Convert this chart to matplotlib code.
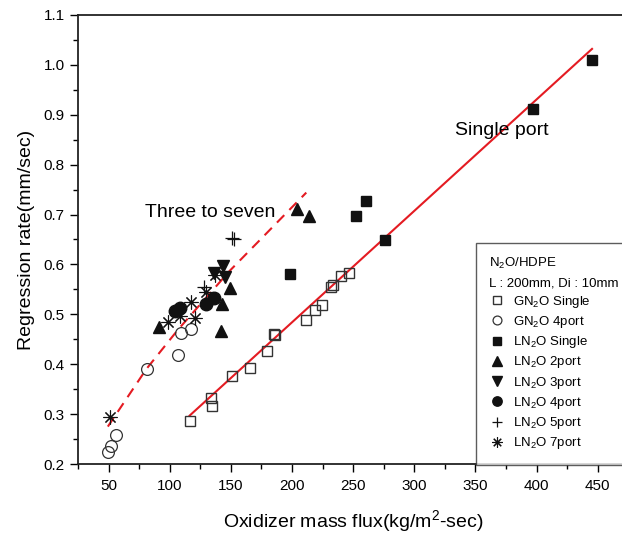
import matplotlib
matplotlib.use("Agg")
import matplotlib.pyplot as plt
from matplotlib.ticker import MultipleLocator

plt.rcParams['font.family'] = ['Liberation Sans', 'DejaVu Sans']
plt.rcParams['mathtext.fontset'] = 'custom'
plt.rcParams['mathtext.rm'] = 'Liberation Sans'
plt.rcParams['mathtext.it'] = 'Liberation Sans:italic'

# GN2O single port (open squares)
gn_single_x = [116.8, 133.4, 134.5, 150.9, 165.6, 179.5, 185.2, 186.5, 211.7, 218.5, 224.8, 232.1, 233.5, 239.8, 246.6]
gn_single_y = [0.286, 0.332, 0.317, 0.376, 0.393, 0.427, 0.460, 0.458, 0.489, 0.508, 0.519, 0.555, 0.558, 0.577, 0.582]

# GN2O 4 port (open circles)
gn_4_x = [49.4, 52.2, 56.3, 81.4, 106.7, 109.5, 117.6]
gn_4_y = [0.225, 0.236, 0.258, 0.390, 0.418, 0.463, 0.470]

# LN2O single port (filled squares)
ln_single_x = [198.6, 252.6, 260.2, 276.3, 397.1, 445.4]
ln_single_y = [0.581, 0.697, 0.728, 0.649, 0.911, 1.010]

# LN2O 2 port (up triangles)
ln_2_x = [90.9, 142.2, 142.7, 149.3, 204.0, 213.8]
ln_2_y = [0.475, 0.467, 0.521, 0.552, 0.712, 0.697]

# LN2O 3 port (down triangles)
ln_3_x = [136.5, 143.2, 145.6]
ln_3_y = [0.582, 0.596, 0.575]

# LN2O 4 port (filled circles)
ln_4_x = [104.0, 108.1, 129.9, 136.1]
ln_4_y = [0.507, 0.512, 0.521, 0.532]

# LN2O 5 port (plus)
ln_5_x = [128.0, 150.8, 152.6]
ln_5_y = [0.555, 0.652, 0.650]

# LN2O 7 port (asterisk)
ln_7_x = [51.4, 98.5, 108.1, 117.6, 120.3, 129.9, 136.7]
ln_7_y = [0.294, 0.485, 0.497, 0.525, 0.492, 0.545, 0.578]

# fitted curves
fit_single_x = [116.3, 445.4]
fit_single_y = [0.297, 1.032]
fit_multi_x = [49.4, 80.8, 106.7, 149.0, 175.0, 211.7]
fit_multi_y = [0.275, 0.390, 0.469, 0.587, 0.652, 0.744]

fig = plt.figure(figsize=(6.22, 5.35), dpi=100)
ax = fig.add_axes([0.1254, 0.1327, 0.8846, 0.8393])

red = '#e41b22'
ax.plot(fit_single_x, fit_single_y, color=red, lw=1.5, zorder=2)
ax.plot(fit_multi_x, fit_multi_y, color=red, lw=1.5, ls=(0, (5, 3.5)), zorder=2)

k = '#111111'
h1, = ax.plot(gn_single_x, gn_single_y, 's', ms=7.5, mfc='none', mec='#333333', mew=1.0, label='GN$_2$O Single')
h2, = ax.plot(gn_4_x, gn_4_y, 'o', ms=8.5, mfc='none', mec='#333333', mew=0.9, label='GN$_2$O 4port')
h3, = ax.plot(ln_single_x, ln_single_y, 's', ms=7, color=k, label='LN$_2$O Single')
h4, = ax.plot(ln_2_x, ln_2_y, '^', ms=9, color=k, label='LN$_2$O 2port')
h5, = ax.plot(ln_3_x, ln_3_y, 'v', ms=9, color=k, label='LN$_2$O 3port')
h6, = ax.plot(ln_4_x, ln_4_y, 'o', ms=9, color=k, label='LN$_2$O 4port')
h7, = ax.plot(ln_5_x, ln_5_y, '+', ms=10, color=k, mew=0.9, label='LN$_2$O 5port')
h8, = ax.plot(ln_7_x, ln_7_y, ls='none', marker=(8, 2, 0), ms=10, color=k, mew=0.8, label='LN$_2$O 7port')

ax.text(333, 0.869, 'Single port', fontsize=14, ha='left', va='center')
ax.text(79.4, 0.705, 'Three to seven', fontsize=14, ha='left', va='center')

ax.set_xlim(25, 475)
ax.set_ylim(0.2, 1.1)
ax.xaxis.set_major_locator(MultipleLocator(50))
ax.xaxis.set_minor_locator(MultipleLocator(25))
ax.yaxis.set_major_locator(MultipleLocator(0.1))
ax.yaxis.set_minor_locator(MultipleLocator(0.05))
ax.tick_params(which='major', direction='out', length=5.5, width=1, labelsize=11, pad=4)
ax.tick_params(which='minor', direction='out', length=3.5, width=1)
ax.tick_params(axis='x', which='major', pad=5)
ax.tick_params(top=False, right=False)
ax.set_xticks([50, 100, 150, 200, 250, 300, 350, 400, 450])
ax.set_yticks([0.2, 0.3, 0.4, 0.5, 0.6, 0.7, 0.8, 0.9, 1.0, 1.1])
ax.set_yticklabels(['0.2', '0.3', '0.4', '0.5', '0.6', '0.7', '0.8', '0.9', '1.0', '1.1'])
for s in ax.spines.values():
    s.set_linewidth(1.3)
    s.set_color('#222222')

ax.set_xlabel('Oxidizer mass flux(kg/m$^2$-sec)', fontsize=14, labelpad=11)
ax.set_ylabel('Regression rate(mm/sec)', fontsize=14, labelpad=6)

leg = ax.legend(handles=[h1, h2, h3, h4, h5, h6, h7, h8],
                title='N$_2$O/HDPE\nL : 200mm, Di : 10mm', title_fontsize=9.5,
                fontsize=9.5, loc='upper left', bbox_to_anchor=(476 / 622, 1 - 243 / 535),
                bbox_transform=fig.transFigure, frameon=True, fancybox=False,
                edgecolor='#333333', alignment='left', handlelength=1.2,
                handletextpad=0.6, labelspacing=0.32, borderpad=1.0, borderaxespad=0,
                markerscale=0.75)
leg.get_title().set_linespacing(1.7)
leg.get_frame().set_linewidth(1.0)

fig.savefig('out.png', dpi=100)
